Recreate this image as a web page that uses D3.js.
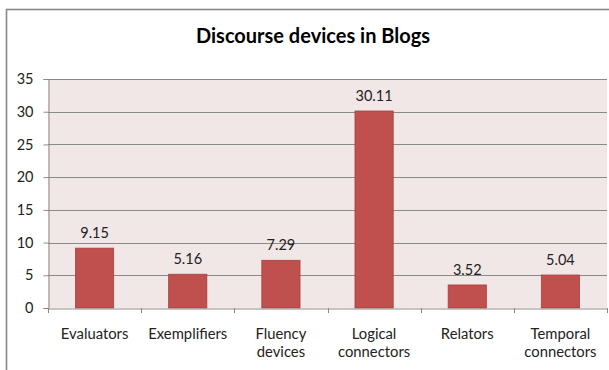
<!DOCTYPE html>
<html>
<head>
<meta charset="utf-8">
<script src="https://cdn.jsdelivr.net/npm/d3@7"></script>
<style>
  html, body { margin: 0; padding: 0; background: #fff; }
  svg { display: block; }
  text { font-family: Lato, "Open Sans", sans-serif; }
</style>
</head>
<body>
<svg id="chart" width="609" height="370"></svg>
<script>
// Average frequency of discourse devices in blog texts
const categories = [
  ["Evaluators"],
  ["Exemplifiers"],
  ["Fluency", "devices"],
  ["Logical", "connectors"],
  ["Relators"],
  ["Temporal", "connectors"]
];
const values = [9.15, 5.16, 7.29, 30.11, 3.52, 5.04];
const yTicks = [0, 5, 10, 15, 20, 25, 30, 35];
const title = "Discourse devices in Blogs";

const svg = d3.select("#chart");
const plot = { left: 48, right: 607, top: 79, bottom: 308 };

// outer chart frame
svg.append("rect")
  .attr("x", 6.5).attr("y", 9.5)
  .attr("width", 620).attr("height", 380)
  .attr("fill", "#fff")
  .attr("stroke", "#888").attr("stroke-width", 1.6);

svg.append("text")
  .attr("x", 313).attr("y", 43)
  .attr("text-anchor", "middle")
  .attr("font-size", 20).attr("font-weight", "bold")
  .attr("fill", "#000")
  .text(title);

const x = d3.scaleBand()
  .domain(d3.range(categories.length))
  .range([plot.left, plot.right])
  .paddingInner(0.59).paddingOuter(0.295);

const xAxisScale = d3.scaleBand()
  .domain(d3.range(categories.length))
  .range([plot.left, plot.right]);

const y = d3.scaleLinear().domain([0, 35]).range([plot.bottom, plot.top]);

// plot background
svg.append("rect")
  .attr("x", plot.left).attr("y", plot.top)
  .attr("width", plot.right - plot.left).attr("height", plot.bottom - plot.top)
  .attr("fill", "#F2E7E7");

// gridlines
svg.append("g")
  .selectAll("line")
  .data(yTicks.filter(d => d > 0))
  .join("line")
  .attr("x1", plot.left).attr("x2", plot.right)
  .attr("y1", d => Math.round(y(d)) + 0.5).attr("y2", d => Math.round(y(d)) + 0.5)
  .attr("stroke", "#8a8a8a").attr("stroke-width", 1);

// y axis
const yAxis = svg.append("g")
  .attr("transform", `translate(${plot.left + 0.5},0)`)
  .call(d3.axisLeft(y).tickValues(yTicks).tickSize(5).tickPadding(10));
yAxis.select(".domain").attr("stroke", "#8a8a8a");
yAxis.selectAll(".tick line").attr("stroke", "#8a8a8a");
yAxis.selectAll(".tick text")
  .attr("font-family", "Lato, 'Open Sans', sans-serif")
  .attr("font-size", 14.5).attr("fill", "#222");

// bars
svg.append("g")
  .selectAll("rect")
  .data(values)
  .join("rect")
  .attr("x", (d, i) => x(i))
  .attr("y", d => y(d))
  .attr("width", x.bandwidth())
  .attr("height", d => y(0) - y(d))
  .attr("fill", "#C0504D")
  .attr("stroke", "#A5403D").attr("stroke-width", 0.8);

// value labels
svg.append("g")
  .selectAll("text")
  .data(values)
  .join("text")
  .attr("x", (d, i) => x(i) + x.bandwidth() / 2)
  .attr("y", d => y(d) - 10)
  .attr("text-anchor", "middle")
  .attr("font-size", 14.5).attr("fill", "#222")
  .text(d => d.toFixed(2));

// x axis
const xAxis = svg.append("g")
  .attr("transform", `translate(0,${plot.bottom + 0.5})`)
  .call(d3.axisBottom(xAxisScale).tickSize(0).tickFormat(""));
xAxis.select(".domain").attr("stroke", "#8a8a8a");
xAxis.selectAll(".tick").remove();

// category boundary ticks
const bounds = d3.range(categories.length + 1).map(i =>
  i < categories.length ? xAxisScale(i) : plot.right);
svg.append("g")
  .selectAll("line")
  .data(bounds)
  .join("line")
  .attr("x1", d => Math.round(d) + 0.5).attr("x2", d => Math.round(d) + 0.5)
  .attr("y1", plot.bottom).attr("y2", plot.bottom + 5)
  .attr("stroke", "#8a8a8a");

// category labels
const catText = svg.append("g")
  .selectAll("text")
  .data(categories)
  .join("text")
  .attr("text-anchor", "middle")
  .attr("font-size", 14.8).attr("fill", "#222");
catText.each(function(lines, i) {
  const cx = xAxisScale(i) + xAxisScale.bandwidth() / 2;
  d3.select(this).selectAll("tspan")
    .data(lines)
    .join("tspan")
    .attr("x", cx)
    .attr("y", (d, j) => 339 + j * 18)
    .text(d => d);
});
</script>
</body>
</html>
